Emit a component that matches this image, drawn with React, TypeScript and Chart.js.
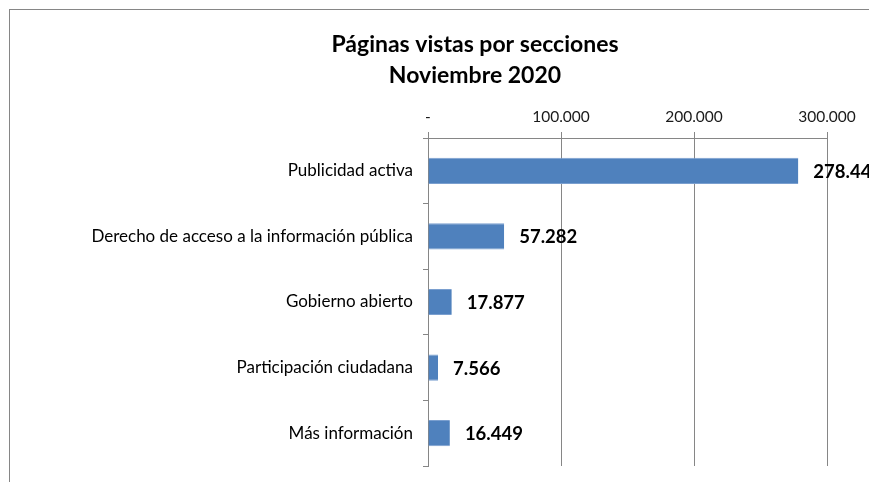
import { useEffect, useRef } from "react";
import { Chart, registerables } from "chart.js";

Chart.register(...registerables);

const categories = [
  "Publicidad activa",
  "Derecho de acceso a la información pública",
  "Gobierno abierto",
  "Participación ciudadana",
  "Más información",
];
const pageViews = [278448, 57282, 17877, 7566, 16449];
const titleLines = ["Páginas vistas por secciones", "Noviembre 2020"];
const axisMin = 0;
const axisMax = 300000;
const axisStep = 100000;

const fmt = (n: number) =>
  n === 0 ? "-" : Math.round(n).toString().replace(/\B(?=(\d{3})+(?!\d))/g, ".");

const GRID = "#868686";

const framePlugin = {
  id: "frame",
  beforeDraw(chart: any) {
    const { ctx, width, height } = chart;
    ctx.save();
    ctx.fillStyle = "#fff";
    ctx.fillRect(0, 0, width, height);
    ctx.strokeStyle = GRID;
    ctx.lineWidth = 1;
    ctx.strokeRect(1.5, 1.5, width + 10, height + 10);
    ctx.restore();
  },
};

const titlePlugin = {
  id: "twoLineTitle",
  afterDraw(chart: any) {
    const { ctx, width } = chart;
    ctx.save();
    ctx.font = "bold 23px Lato";
    ctx.fillStyle = "#000";
    ctx.textAlign = "center";
    ctx.textBaseline = "middle";
    ctx.fillText(titleLines[0], width / 2, 37);
    ctx.fillText(titleLines[1], width / 2, 68);
    ctx.restore();
  },
};

const valueLabelPlugin = {
  id: "valueLabels",
  afterDatasetsDraw(chart: any) {
    const { ctx } = chart;
    const meta = chart.getDatasetMeta(0);
    ctx.save();
    ctx.font = "bold 18.5px Lato";
    ctx.fillStyle = "#000";
    ctx.textAlign = "left";
    ctx.textBaseline = "middle";
    meta.data.forEach((bar: any, i: number) => {
      ctx.fillText(fmt(pageViews[i]), bar.x + 15, bar.y + 1);
    });
    ctx.restore();
  },
};

export default function App() {
  const ref = useRef<HTMLCanvasElement | null>(null);
  useEffect(() => {
    document.documentElement.style.overflow = "hidden";
    document.body.style.overflow = "hidden";
    if (!ref.current) return;
    const chart = new Chart(ref.current, {
      type: "bar",
      data: {
        labels: categories,
        datasets: [
          {
            data: pageViews,
            backgroundColor: "#4F81BD",
            borderColor: "#7A9FCF",
            borderWidth: { top: 1, bottom: 1, left: 0, right: 0 },
            borderSkipped: false,
            barPercentage: 0.4,
            categoryPercentage: 1,
          },
        ],
      },
      options: {
        indexAxis: "y",
        responsive: false,
        animation: false,
        layout: { padding: { top: 0, left: 0, right: 115, bottom: 32 } },
        plugins: {
          legend: { display: false },
          title: { display: false },
          tooltip: { enabled: false },
        },
        scales: {
          x: {
            position: "top",
            min: axisMin,
            max: axisMax,
            afterFit: (s: any) => {
              s.height = 130;
            },
            ticks: {
              stepSize: axisStep,
              callback: (v: any) => fmt(Number(v)),
              font: { family: "Lato", size: 15.5 },
              color: "#1a1a1a",
              padding: 6,
              maxRotation: 0,
            },
            grid: { color: GRID, tickLength: 6, lineWidth: 1 },
            border: { display: true, color: GRID },
          },
          y: {
            afterFit: (s: any) => {
              s.width = 420;
            },
            ticks: {
              font: { family: "Lato", size: 17 },
              color: "#000",
              padding: 10,
            },
            grid: {
              drawOnChartArea: false,
              drawTicks: true,
              tickLength: 5,
              color: GRID,
              offset: true,
            },
            border: { display: true, color: GRID },
          },
        },
      },
      plugins: [framePlugin, titlePlugin, valueLabelPlugin],
    });
    return () => chart.destroy();
  }, []);
  return (
    <div style={{ width: 934, height: 490 }}>
      <canvas ref={ref} width={934} height={490} style={{ display: "block" }} />
    </div>
  );
}
